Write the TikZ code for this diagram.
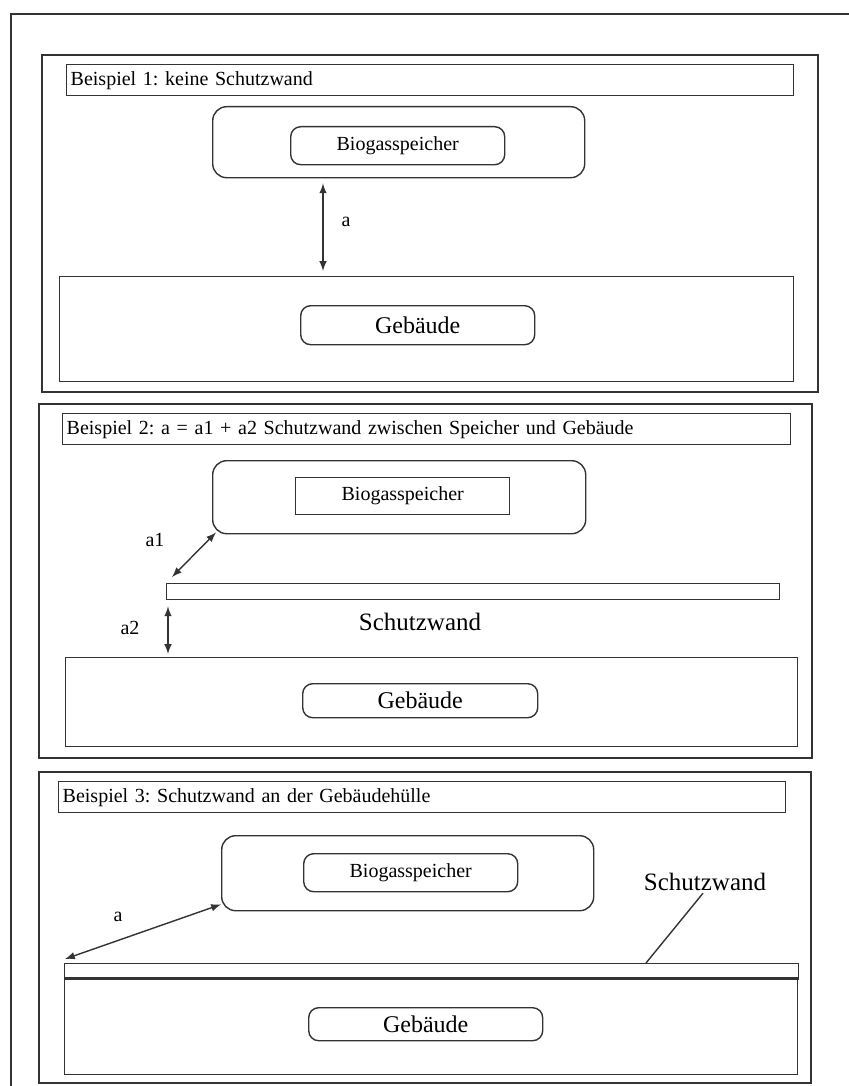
\documentclass[tikz,border=0pt]{standalone}
\usepackage{fontspec}
\setmainfont{Liberation Serif}
\usetikzlibrary{%
  calc,
  positioning,
  arrows,
}
\frenchspacing

\begin{document}
\begin{tikzpicture}[
    x = 0.5pt, y = -0.5pt,
    stroke/.style = {draw = black!80, line width = 0.7pt},
    plainbox/.style = {stroke, inner sep = 0pt, anchor = north west},
    roundbox/.style = {plainbox, rounded corners = 5pt},
    titlebox/.style = {
      plainbox, minimum width = 363.5pt, minimum height = 15.5pt,
      text width = 359.5pt, inner xsep = 2pt, align = left,
      font = \fontsize{10}{12}\selectfont,
    },
    tag/.style = {font = \fontsize{10}{12}\selectfont, inner sep = 1pt},
    bigtag/.style = {font = \fontsize{12.5}{15}\selectfont, inner sep = 1pt},
    dimarrow/.style = {stroke, latex-latex},
  ]
  \useasboundingbox (0,0) rectangle (849,1086);

  % outer sheet
  \draw[stroke] (11,1086) -- (11,14) -- (849,14);

  % Beispiel 1
  \draw[stroke] (42,55) rectangle (818,392);
  \node[titlebox] (title1) at (66,64) {Beispiel 1: keine Schutzwand};

  \node[
    roundbox, rounded corners = 7pt,
    minimum width = 186pt, minimum height = 35.5pt,
  ] (store1) at (212,106) {};
  \node[
    roundbox, tag,
    minimum width = 107pt, minimum height = 19pt,
  ] (tank1) at (290,126) {Biogasspeicher};

  \node[
    plainbox,
    minimum width = 367pt, minimum height = 52.5pt,
  ] (house1) at (59,276) {};
  \node[
    roundbox, bigtag, font = \fontsize{12}{14}\selectfont,
    minimum width = 117pt, minimum height = 19.5pt,
  ] (hall1) at (300,305) {Gebäude};

  \node[tag] (dist1) at (346,222) {a};
  \draw[dimarrow]
    ($(store1.south west)+(111,5)$) -- ($(house1.north west)+(264,-5)$);

  % Beispiel 2
  \draw[stroke] (39,404) rectangle (812,758);
  \node[titlebox, minimum width = 364pt, text width = 360pt] (title2) at (62,413)
    {Beispiel 2: a = a1 + a2 Schutzwand zwischen Speicher und Gebäude};

  \node[
    roundbox, rounded corners = 7pt,
    minimum width = 186.5pt, minimum height = 36.5pt,
  ] (store2) at (212,460) {};
  \node[
    plainbox, tag,
    minimum width = 107pt, minimum height = 18.5pt,
  ] (tank2) at (295,477) {Biogasspeicher};

  \node[
    plainbox,
    minimum width = 306.5pt, minimum height = 8pt,
  ] (wall2) at (166,583) {};
  \node[bigtag] (shield2) at (420,622) {Schutzwand};

  \node[
    plainbox,
    minimum width = 366pt, minimum height = 44.5pt,
  ] (house2) at (65,657) {};
  \node[
    roundbox, font = \fontsize{12}{14}\selectfont,
    minimum width = 117.5pt, minimum height = 17pt,
  ] (hall2) at (302,683) {Gebäude};

  \node[tag] (dist2a) at (155,540) {a1};
  \node[tag] (dist2b) at (130,628) {a2};
  \draw[dimarrow]
    ($(wall2.north west)+(6,-6)$) -- ($(store2.south west)+(4,-2)$);
  \draw[dimarrow]
    ($(wall2.south west)+(2,6)$) -- ($(house2.north west)+(103,-3)$);

  % Beispiel 3
  \draw[stroke] (39,772) rectangle (811,1083);
  \node[titlebox] (title3) at (58,781) {Beispiel 3: Schutzwand an der Gebäudehülle};

  \node[
    roundbox, rounded corners = 7pt,
    minimum width = 186pt, minimum height = 37.5pt,
  ] (store3) at (221,835) {};
  \node[
    roundbox, tag,
    minimum width = 107pt, minimum height = 19pt,
  ] (tank3) at (303,853) {Biogasspeicher};

  \node[
    plainbox,
    minimum width = 367pt, minimum height = 7pt,
  ] (wall3) at (64,963) {};
  \node[
    plainbox,
    minimum width = 366.5pt, minimum height = 48.5pt,
  ] (house3) at (64,977) {};
  \draw[stroke, line width = 1.6pt] (wall3.south west) -- (wall3.south east);
  \node[
    roundbox, font = \fontsize{12}{14}\selectfont,
    minimum width = 117pt, minimum height = 16.5pt,
  ] (hall3) at (308,1007) {Gebäude};

  \node[bigtag] (shield3) at (705,882) {Schutzwand};
  \draw[stroke]
    ([xshift = -1pt]shield3.south) -- ($(wall3.north west)+(582,0)$);

  \node[tag] (dist3) at (118,917) {a};
  \draw[dimarrow]
    ($(wall3.north west)+(1,-4)$) -- ($(store3.south west)+(0,-7)$);
\end{tikzpicture}
\end{document}
